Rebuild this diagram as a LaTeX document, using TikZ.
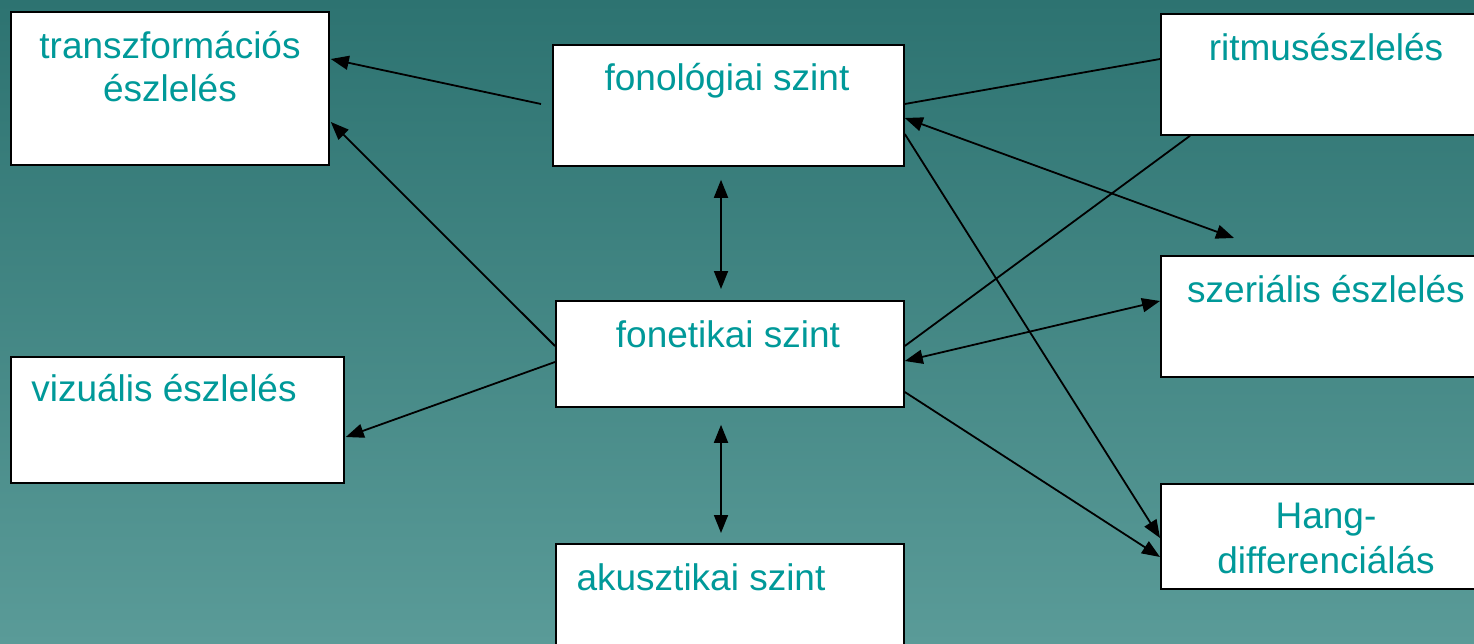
\documentclass[tikz,border=0pt]{standalone}
\usepackage{fontspec}
\setmainfont{Liberation Sans}
\usetikzlibrary{arrows.meta,calc}
\definecolor{bgtop}{RGB}{45,115,113}
\definecolor{bgbot}{RGB}{90,155,152}
\definecolor{txt}{RGB}{0,153,153}
\tikzset{
  box/.style={draw=black, fill=white, line width=1.8pt, rectangle, anchor=north west, inner sep=0pt},
  lbl/.style={text=txt, font=\fontsize{37}{43}\selectfont, anchor=base, inner sep=0pt},
  conn/.style={line width=1.8pt, draw=black},
  tip/.style={-{Triangle[length=18pt,width=14pt]}},
  tips/.style={{Triangle[length=18pt,width=14pt]}-{Triangle[length=18pt,width=14pt]}}
}
\begin{document}
\begin{tikzpicture}[x=1pt,y=-1pt]
\useasboundingbox (0,0) rectangle (1474,644);
\clip (0,0) rectangle (1474,644);
\shade[top color=bgtop, bottom color=bgbot] (0,0) rectangle (1474,644);
% boxes
\node[box, minimum width=318pt, minimum height=153pt] (tr) at (10,11) {};
\node[box, minimum width=351pt, minimum height=121pt] (fl) at (552,44) {};
\node[box, minimum width=330pt, minimum height=121pt] (ri) at (1160,13) {};
\node[box, minimum width=348pt, minimum height=106pt] (fe) at (555,300) {};
\node[box, minimum width=330pt, minimum height=121pt] (sz) at (1160,255) {};
\node[box, minimum width=333pt, minimum height=126pt] (vi) at (10,356) {};
\node[box, minimum width=330pt, minimum height=105pt] (ha) at (1160,483) {};
\node[box, minimum width=348pt, minimum height=120pt] (ak) at (555,543) {};
% labels
\node[lbl] (ttr1) at (170,59) {transzformációs};
\node[lbl] (ttr2) at (170,102) {észlelés};
\node[lbl] (tfl) at (727,91) {fonológiai szint};
\node[lbl] (tri) at (1326,61) {ritmusészlelés};
\node[lbl] (tfe) at (728,347) {fonetikai szint};
\node[lbl] (tsz) at (1326,302) {szeriális észlelés};
\node[lbl] (tvi) at (164,401) {vizuális észlelés};
\node[lbl] (tha1) at (1326,528) {Hang-};
\node[lbl] (tha2) at (1326,573) {differenciálás};
\node[lbl] (tak) at (701,590) {akusztikai szint};
% connectors
\draw[conn,tip] ($(fl.north west)+(-11,60)$) -- ($(tr.north east)+(1,48)$);
\draw[conn,tip] ($(fe.north west)+(0,46)$) -- ($(tr.north east)+(1,111)$);
\draw[conn,tips] ($(fl.south west)+(169,13)$) -- ($(fe.north west)+(166,-11)$);
\draw[conn,tips] ($(fe.south west)+(166,17)$) -- ($(ak.north west)+(166,-10)$);
\draw[conn,tip] ($(fe.north west)+(0,62)$) -- ($(vi.north east)+(1,81)$);
\draw[conn] ($(ri.north west)+(0,46)$) -- ($(fl.north east)+(0,60)$);
\draw[conn] ($(ri.south west)+(30,0)$) -- ($(fe.north east)+(0,46)$);
\draw[conn,tips] ($(fl.north east)+(0,74)$) -- ($(sz.north west)+(74,-17)$);
\draw[conn,tips] ($(fe.north east)+(0,61)$) -- ($(sz.north west)+(0,46)$);
\draw[conn,tip] ($(fl.north east)+(0,90)$) -- ($(ha.north west)+(0,55)$);
\draw[conn,tip] ($(fe.north east)+(0,92)$) -- ($(ha.north west)+(0,74)$);
\end{tikzpicture}
\end{document}
